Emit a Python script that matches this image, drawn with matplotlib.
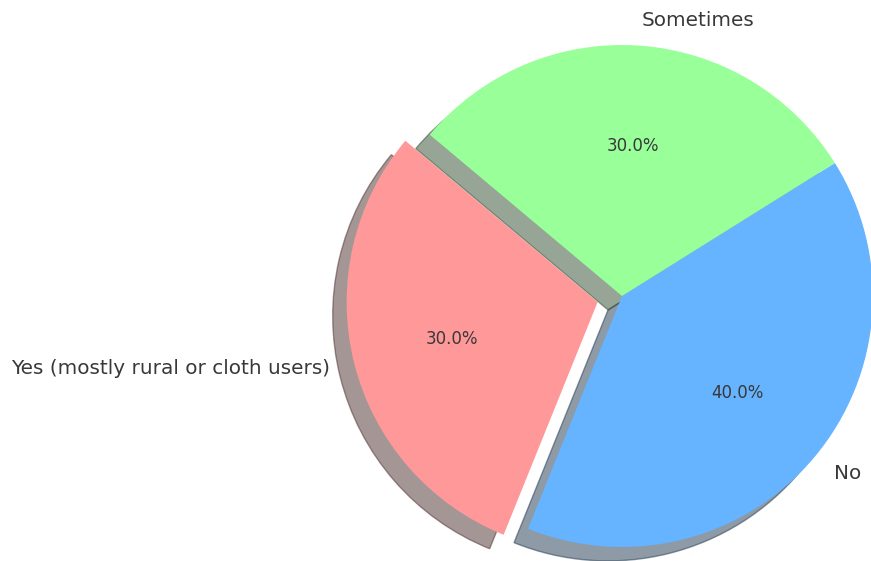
import matplotlib
matplotlib.use("Agg")
import matplotlib.pyplot as plt

labels = ['Yes (mostly rural or cloth users)', 'No', 'Sometimes']
sizes = [30, 40, 30]
colors = ['#ff9999', '#66b3ff', '#99ff99']
explode = (0.1, 0, 0)

fig = plt.figure(figsize=(8.71, 5.61), dpi=100)
ax = fig.add_axes([0, 0, 1, 1])

wedges, texts, autotexts = ax.pie(
    sizes, labels=labels, colors=colors, explode=explode,
    autopct='%1.1f%%', startangle=140,
    shadow={'ox': -0.04, 'oy': -0.04},
    textprops={'fontsize': 12, 'color': '#383838'},
)
for t in texts:
    t.set_fontsize(14.4)

# pie centre at (622, 296) px, radius 251 px
scale = 251.0
ax.set_xlim(-622 / scale, (871 - 622) / scale)
ax.set_ylim(-(561 - 296) / scale, 296 / scale)
ax.set_aspect('equal')
ax.axis('off')

fig.savefig('out.png', dpi=100)
